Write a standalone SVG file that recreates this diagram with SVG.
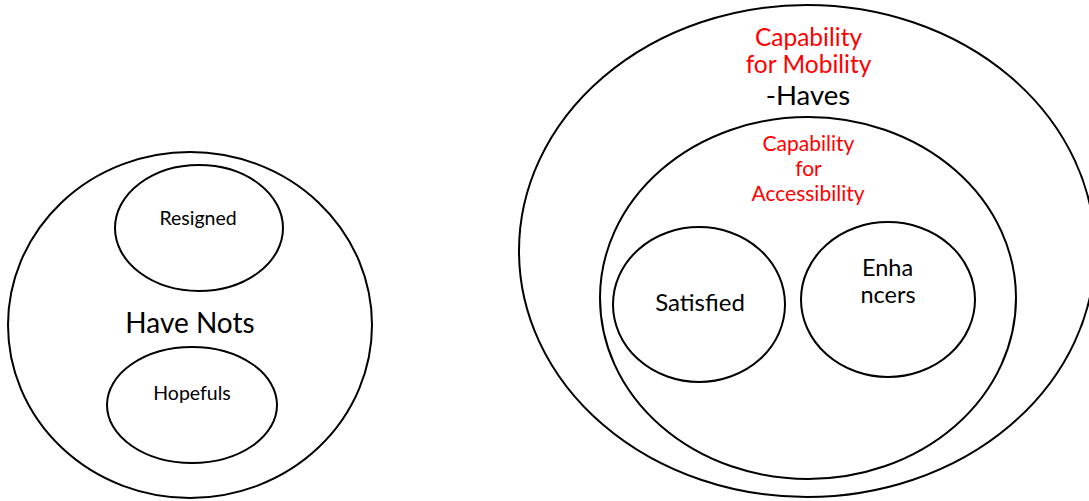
<svg xmlns="http://www.w3.org/2000/svg" width="1089" height="501" viewBox="0 0 1089 501">
<style>
.o{fill:none;stroke:#000;stroke-width:2}
.t{font-family:Lato,"Liberation Sans",sans-serif;text-anchor:middle;fill:#000}
.r{fill:#ff0000}
</style>
<rect width="1089" height="501" fill="#fff"/>
<g id="have-nots">
<ellipse class="o" cx="190" cy="325" rx="182" ry="173"/>
<text class="t" x="190" y="333" font-size="28">Have Nots</text>
</g>
<g id="resigned">
<ellipse class="o" cx="199" cy="228" rx="84" ry="63"/>
<text class="t" x="198" y="225" font-size="19.5">Resigned</text>
</g>
<g id="hopefuls">
<ellipse class="o" cx="192" cy="405" rx="85" ry="58"/>
<text class="t" x="192" y="400" font-size="19.5">Hopefuls</text>
</g>
<g id="haves">
<ellipse class="o" cx="807" cy="251" rx="288" ry="246"/>
<text class="t r" x="808.5" y="46" font-size="24.5">Capability</text>
<text class="t r" x="808.5" y="73" font-size="24.5">for Mobility</text>
<text class="t" x="808" y="105" font-size="27.5">-Haves</text>
</g>
<g id="accessibility">
<ellipse class="o" cx="808" cy="298" rx="208" ry="181"/>
<text class="t r" x="808.5" y="151" font-size="21">Capability</text>
<text class="t r" x="808.5" y="176" font-size="21">for</text>
<text class="t r" x="808" y="201" font-size="21">Accessibility</text>
</g>
<g id="satisfied">
<ellipse class="o" cx="699" cy="304.5" rx="86" ry="77.5"/>
<text class="t" x="700" y="311" font-size="24">Satisfied</text>
</g>
<g id="enhancers">
<ellipse class="o" cx="888" cy="299.5" rx="87" ry="77.5"/>
<text class="t" x="887.5" y="276" font-size="23.5">Enha</text>
<text class="t" x="888" y="303" font-size="23.5">ncers</text>
</g>
<g id="connectors"></g>
</svg>
